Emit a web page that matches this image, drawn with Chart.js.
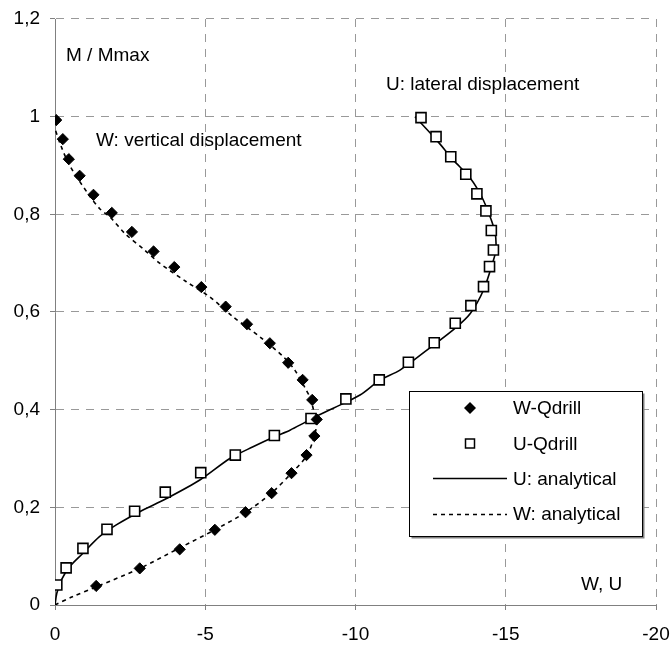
<!DOCTYPE html>
<html>
<head>
<meta charset="utf-8">
<script src="https://cdn.jsdelivr.net/npm/chart.js@4/dist/chart.umd.min.js"></script>
<style>
html,body{margin:0;padding:0;background:#fff;}
#wrap{position:relative;width:672px;height:645px;}
</style>
</head>
<body>
<div id="wrap"><canvas id="c" width="672" height="645"></canvas></div>
<script>
// ---- data (x = displacement W or U, y = M / Mmax) ----
const M_W_QDRILL = [0.993,0.954,0.913,0.879,0.840,0.803,0.764,0.724,0.692,0.651,0.611,0.575,0.536,0.496,0.461,0.420,0.380,0.346,0.307,0.270,0.229,0.190,0.154,0.114,0.075,0.039];
const W_QDRILL   = [-0.04,-0.26,-0.46,-0.82,-1.28,-1.89,-2.56,-3.28,-3.97,-4.87,-5.68,-6.39,-7.15,-7.76,-8.24,-8.56,-8.71,-8.63,-8.37,-7.87,-7.21,-6.34,-5.32,-4.15,-2.82,-1.37];

const M_U_QDRILL = [0.041,0.076,0.116,0.155,0.192,0.231,0.271,0.307,0.347,0.382,0.422,0.461,0.497,0.537,0.577,0.613,0.652,0.693,0.727,0.767,0.807,0.842,0.882,0.918,0.959,0.998];
const U_QDRILL   = [-0.06,-0.37,-0.93,-1.73,-2.65,-3.67,-4.85,-6.0,-7.3,-8.52,-9.68,-10.79,-11.76,-12.62,-13.32,-13.84,-14.26,-14.46,-14.59,-14.52,-14.34,-14.04,-13.67,-13.17,-12.68,-12.18];

const M_U_ANALYTICAL = [0,0.024,0.051,0.078,0.106,0.14,0.164,0.191,0.218,0.256,0.300,0.324,0.345,0.358,0.372,0.387,0.403,0.430,0.461,0.481,0.532,0.567,0.597,0.645,0.706,0.727,0.761,0.795,0.836,0.874,0.911,0.952,1.0];
const U_ANALYTICAL   = [0,-0.06,-0.21,-0.48,-0.93,-1.48,-2.04,-2.82,-3.71,-4.82,-5.82,-6.59,-7.32,-7.82,-8.26,-8.71,-9.26,-10.15,-10.82,-11.48,-12.59,-13.32,-13.82,-14.26,-14.59,-14.67,-14.65,-14.48,-14.2,-13.82,-13.26,-12.7,-11.98];

const M_W_ANALYTICAL = [0,0.017,0.037,0.075,0.117,0.154,0.19,0.229,0.27,0.305,0.345,0.372,0.40,0.423,0.447,0.481,0.509,0.549,0.59,0.631,0.662,0.70,0.727,0.761,0.792,0.812,0.843,0.901,0.94,0.975];
const W_ANALYTICAL   = [0,-0.58,-1.37,-2.82,-4.15,-5.32,-6.35,-7.2,-7.87,-8.37,-8.63,-8.7,-8.6,-8.5,-8.3,-7.98,-7.59,-6.82,-5.93,-5.15,-4.37,-3.48,-2.98,-2.32,-1.87,-1.48,-1.09,-0.48,-0.2,0];

const SERIES_NAMES = ['W-Qdrill','U-Qdrill','U: analytical','W: analytical'];
const X_TICKS = [0,-5,-10,-15,-20];
const Y_TICKS = ['0','0,2','0,4','0,6','0,8','1','1,2'];
const ANNOTATIONS = ['M / Mmax','W: vertical displacement','U: lateral displacement','W, U'];

const pts = (xs, ys) => xs.map((x, i) => ({x: x, y: ys[i]}));
const FONT = '"Liberation Sans", Arial, sans-serif';
const FS = 19;

const overlay = {
  id: 'overlay',
  afterDraw(chart) {
    const ctx = chart.ctx;
    ctx.save();
    ctx.fillStyle = '#000';
    ctx.font = FS + 'px ' + FONT;
    ctx.textBaseline = 'alphabetic';
    ctx.textAlign = 'left';
    ctx.fillText(ANNOTATIONS[0], 66, 61);
    ctx.fillText(ANNOTATIONS[1], 96, 146);
    ctx.fillText(ANNOTATIONS[2], 386, 90);
    ctx.fillText(ANNOTATIONS[3], 581, 590);

    // legend box
    const bx = 409.5, by = 391.5, bw = 233, bh = 145;
    ctx.fillStyle = '#808080';
    ctx.fillRect(bx + 2, by + 2, bw, bh);
    ctx.fillStyle = '#fff';
    ctx.fillRect(bx, by, bw, bh);
    ctx.strokeStyle = '#000';
    ctx.lineWidth = 1;
    ctx.strokeRect(bx, by, bw, bh);

    const tx = 513;
    ctx.fillStyle = '#000';
    ctx.fillText(SERIES_NAMES[0], tx, 414);
    ctx.fillText(SERIES_NAMES[1], tx, 450);
    ctx.fillText(SERIES_NAMES[2], tx, 485);
    ctx.fillText(SERIES_NAMES[3], tx, 520);

    // diamond
    ctx.beginPath();
    ctx.moveTo(470, 408 - 6); ctx.lineTo(476, 408); ctx.lineTo(470, 408 + 6); ctx.lineTo(464, 408);
    ctx.closePath(); ctx.fill();
    // square
    ctx.lineWidth = 1.5;
    ctx.fillStyle = '#fff';
    ctx.fillRect(465.5, 439, 9, 9);
    ctx.strokeRect(465.5, 439, 9, 9);
    // solid line
    ctx.beginPath(); ctx.moveTo(433, 478.5); ctx.lineTo(507, 478.5); ctx.stroke();
    // dotted line
    ctx.setLineDash([4, 4]);
    ctx.beginPath(); ctx.moveTo(433, 514.5); ctx.lineTo(507, 514.5); ctx.stroke();
    ctx.restore();
  }
};

new Chart(document.getElementById('c'), {
  type: 'scatter',
  data: {
    datasets: [
      { label: SERIES_NAMES[0], data: pts(W_QDRILL, M_W_QDRILL), showLine: false,
        pointStyle: 'rectRot', pointRadius: 5.6, backgroundColor: '#000', borderColor: '#000', borderWidth: 1 },
      { label: SERIES_NAMES[1], data: pts(U_QDRILL, M_U_QDRILL), showLine: false,
        pointStyle: 'rect', pointRadius: 7.1, backgroundColor: '#fff', borderColor: '#000', borderWidth: 1.6 },
      { label: SERIES_NAMES[2], data: pts(U_ANALYTICAL, M_U_ANALYTICAL), showLine: true, tension: 0.3,
        pointRadius: 0, borderColor: '#000', borderWidth: 1.6, fill: false },
      { label: SERIES_NAMES[3], data: pts(W_ANALYTICAL, M_W_ANALYTICAL), showLine: true, tension: 0.3,
        pointRadius: 0, borderColor: '#000', borderWidth: 1.6, borderDash: [4, 4], fill: false }
    ]
  },
  options: {
    responsive: false,
    animation: false,
    events: [],
    layout: { padding: { top: 19, right: 16, left: 0, bottom: 0 } },
    plugins: { legend: { display: false }, tooltip: { enabled: false } },
    scales: {
      x: {
        type: 'linear', min: -20, max: 0, reverse: true,
        afterFit(s) { s.height = 40; s.paddingLeft = 0; s.paddingRight = 0; },
        afterBuildTicks(s) { s.ticks = X_TICKS.map(v => ({value: v})); },
        ticks: { padding: 13, color: '#000', font: { family: FONT, size: FS },
          callback: (v) => String(v) },
        grid: { color: '#999', lineWidth: 1, tickLength: 5, tickColor: '#808080' },
        border: { color: '#808080', width: 1, dash: [8, 7] }
      },
      y: {
        type: 'linear', min: 0, max: 1.2,
        afterFit(s) { s.width = 55; s.paddingTop = 0; s.paddingBottom = 0; },
        afterBuildTicks(s) { s.ticks = Y_TICKS.map((t, i) => ({value: i * 0.2})); },
        ticks: { padding: 10, color: '#000', font: { family: FONT, size: FS },
          callback: (v, i) => Y_TICKS[i] },
        grid: { color: '#999', lineWidth: 1, tickLength: 5, tickColor: '#808080' },
        border: { color: '#808080', width: 1, dash: [8, 7] }
      }
    }
  },
  plugins: [overlay]
});
</script>
</body>
</html>
